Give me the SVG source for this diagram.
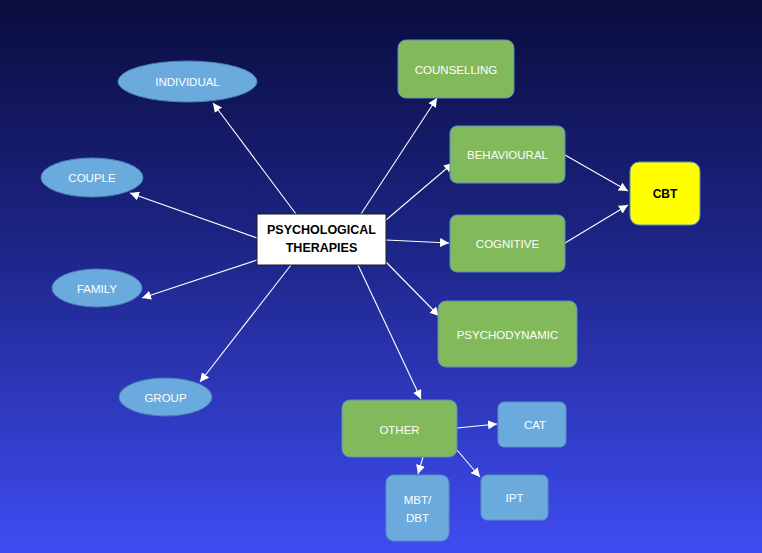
<svg xmlns="http://www.w3.org/2000/svg" width="762" height="553" viewBox="0 0 762 553">
<defs>
<linearGradient id="bg" x1="0" y1="0" x2="0" y2="1">
<stop offset="0" stop-color="#0a0d3e"/>
<stop offset="0.45" stop-color="#1d2587"/>
<stop offset="1" stop-color="#3f4cf2"/>
</linearGradient>
<marker id="ah" viewBox="0 0 10 10" refX="10" refY="5" markerWidth="9" markerHeight="9" markerUnits="userSpaceOnUse" orient="auto">
<path d="M0,0 L10,5 L0,10 z" fill="#ffffff"/>
</marker>
<style>
.ell{fill:#6aaadc;stroke:#4b82b8;stroke-width:1}
.grn{fill:#82b95a;stroke:#5b8fc0;stroke-width:1}
.lb{fill:#6aaadc;stroke:#5b8fc0;stroke-width:1}
.t{font-family:"Liberation Sans",Arial,sans-serif;font-size:11.5px;fill:#ffffff;text-anchor:middle;dominant-baseline:central}
.b{font-family:"Liberation Sans",Arial,sans-serif;font-size:12.5px;font-weight:bold;fill:#000000;text-anchor:middle;dominant-baseline:central}
.c line{stroke:#ffffff;stroke-width:1.1;marker-end:url(#ah)}
</style>
</defs>
<rect width="762" height="553" fill="url(#bg)"/>
<g class="c" id="connectors">
<line x1="296" y1="214" x2="213" y2="103"/>
<line x1="257" y1="238" x2="130" y2="193"/>
<line x1="257" y1="260" x2="142" y2="298"/>
<line x1="291" y1="265" x2="200" y2="382"/>
<line x1="361" y1="214" x2="437" y2="98"/>
<line x1="386" y1="220" x2="453" y2="163"/>
<line x1="386" y1="240" x2="449" y2="243"/>
<line x1="386" y1="262" x2="439" y2="316"/>
<line x1="358" y1="265" x2="421" y2="399"/>
<line x1="565" y1="155" x2="628" y2="191"/>
<line x1="565" y1="243" x2="628" y2="205"/>
<line x1="457" y1="428" x2="497" y2="424"/>
<line x1="423" y1="457" x2="418" y2="474"/>
<line x1="457" y1="450" x2="480" y2="477"/>
</g>
<g id="individual"><ellipse class="ell" cx="187.5" cy="81.5" rx="69.5" ry="20.5"/><text class="t" x="187.5" y="82">INDIVIDUAL</text></g>
<g id="couple"><ellipse class="ell" cx="92" cy="177.5" rx="51" ry="19.5"/><text class="t" x="92" y="178">COUPLE</text></g>
<g id="family"><ellipse class="ell" cx="97" cy="288" rx="45" ry="19"/><text class="t" x="97" y="289">FAMILY</text></g>
<g id="group"><ellipse class="ell" cx="165.5" cy="397" rx="46.5" ry="19"/><text class="t" x="165.5" y="398">GROUP</text></g>
<g id="center"><rect x="257" y="214" width="129" height="51" fill="#ffffff" stroke="#1a1a1a" stroke-width="1"/><text class="b" x="321.5" y="229.5">PSYCHOLOGICAL</text><text class="b" x="321.5" y="248">THERAPIES</text></g>
<g id="counselling"><rect class="grn" x="398" y="40" width="116" height="58" rx="8"/><text class="t" x="456" y="70">COUNSELLING</text></g>
<g id="behavioural"><rect class="grn" x="450" y="126" width="115" height="57" rx="7"/><text class="t" x="507.5" y="155">BEHAVIOURAL</text></g>
<g id="cognitive"><rect class="grn" x="450" y="215" width="115" height="57" rx="7"/><text class="t" x="507.5" y="244">COGNITIVE</text></g>
<g id="psychodynamic"><rect class="grn" x="438" y="301" width="139" height="66" rx="8"/><text class="t" x="507.5" y="335">PSYCHODYNAMIC</text></g>
<g id="cbt"><rect x="630" y="162" width="70" height="63" rx="9" fill="#ffff00" stroke="#5b8fc0" stroke-width="1"/><text class="b" x="665" y="194" style="font-size:12px">CBT</text></g>
<g id="other"><rect class="grn" x="342" y="400" width="115" height="57" rx="8"/><text class="t" x="399.5" y="430">OTHER</text></g>
<g id="cat"><rect class="lb" x="498" y="402" width="68" height="45" rx="6"/><text class="t" x="535" y="425">CAT</text></g>
<g id="mbtdbt"><rect class="lb" x="386" y="475" width="63" height="66" rx="8"/><text class="t" x="417.5" y="500">MBT/</text><text class="t" x="417.5" y="518">DBT</text></g>
<g id="ipt"><rect class="lb" x="481" y="475" width="67" height="45" rx="6"/><text class="t" x="514.5" y="498">IPT</text></g>
</svg>
